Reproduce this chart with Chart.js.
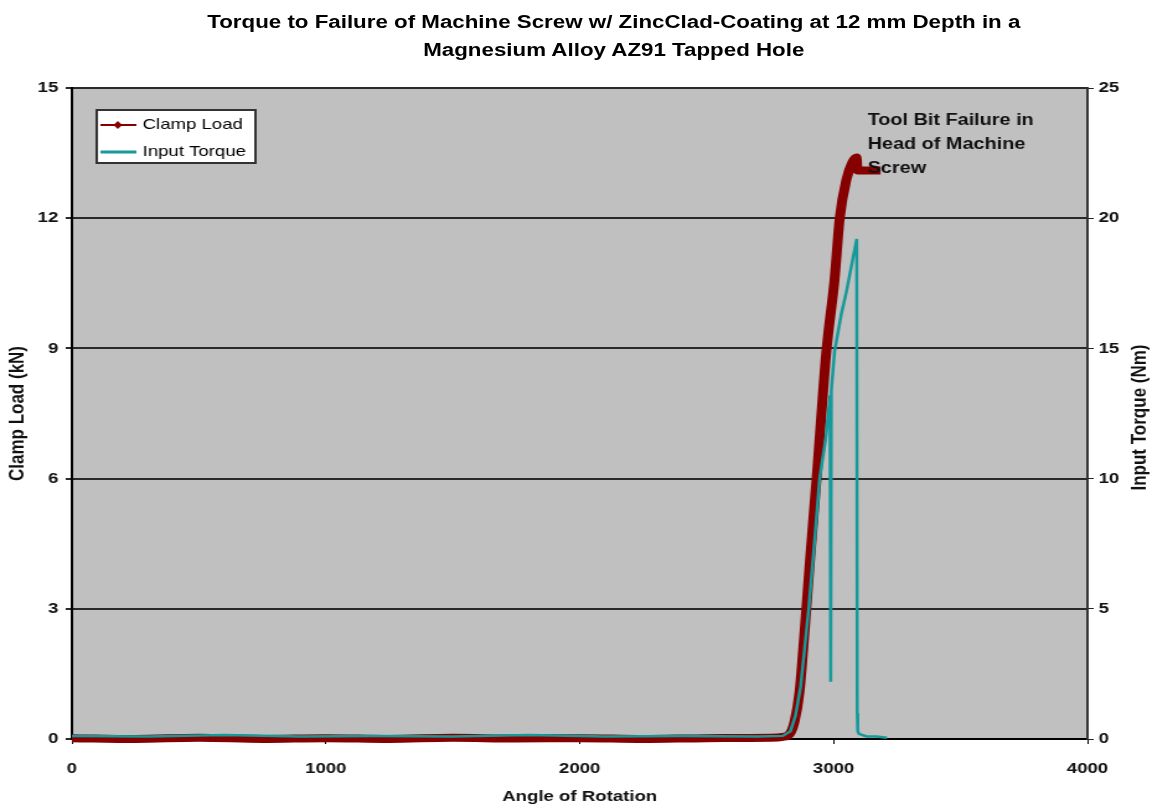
<!DOCTYPE html>
<html>
<head>
<meta charset="utf-8">
<script src="https://cdn.jsdelivr.net/npm/chart.js@4.4.0/dist/chart.umd.min.js"></script>
<style>
  html, body { margin: 0; padding: 0; background: #fff; overflow: hidden; }
  /* a imagem original e esticada na horizontal, entao estica tudo */
  #wrap { position: relative; width: 929px; height: 810px; transform: scaleX(1.24); transform-origin: 0 0; }
  #grafico { position: absolute; left: 0; top: 0; }
  #titulo {
    position: absolute; left: 0; top: 8px; width: 929px; padding-left: 61px; box-sizing: border-box;
    text-align: center; font: bold 18px "Liberation Sans", Arial, sans-serif; line-height: 28px; color: #000;
  }
</style>
</head>
<body>
<div id="wrap">
  <canvas id="grafico" width="929" height="810"></canvas>
  <div id="titulo">Torque to Failure of Machine Screw w/ ZincClad-Coating at 12 mm Depth in a<br>Magnesium Alloy AZ91 Tapped Hole</div>
</div>
<script>
// dados
const anguloCarga = [0, 250, 500, 750, 1000, 1250, 1500, 1750, 2000, 2250, 2500, 2750, 2800, 2827, 2846, 2866, 2886, 2906, 2933, 2972, 3004, 3024, 3051, 3075, 3091, 3094, 3130, 3185];
const cargaKN = [0.02, 0.0, 0.03, 0.0, 0.02, 0.0, 0.03, 0.01, 0.02, 0.0, 0.02, 0.03, 0.05, 0.12, 0.4, 1.1, 2.5, 4.05, 6.0, 8.96, 10.6, 12.0, 12.9, 13.3, 13.4, 13.1, 13.1, 13.1];

const anguloTorque = [0, 300, 600, 900, 1200, 1500, 1800, 2100, 2400, 2700, 2800, 2830, 2850, 2870, 2902, 2925, 2945, 2970, 2986, 2988, 2989, 2991, 3004, 3030, 3051, 3075, 3091, 3093, 3095, 3100, 3130, 3170, 3210];
const torqueNm = [0.12, 0.1, 0.15, 0.1, 0.12, 0.1, 0.15, 0.1, 0.12, 0.1, 0.12, 0.3, 0.9, 2.0, 5.0, 7.6, 10.0, 11.6, 13.2, 2.2, 2.2, 13.4, 14.9, 16.3, 17.2, 18.4, 19.2, 1.0, 0.3, 0.2, 0.1, 0.1, 0.05];

const ticksCarga = [0, 3, 6, 9, 12, 15];
const ticksTorque = [0, 5, 10, 15, 20, 25];
const ticksAngulo = [0, 1000, 2000, 3000, 4000];

const nomesSeries = ['Clamp Load', 'Input Torque'];
const textoAnotacao = ['Tool Bit Failure in', 'Head of Machine', 'Screw'];

const corCarga = '#860000';
const corTorque = '#16999a';
const fonte = '"Liberation Sans", Arial, sans-serif';

const pontosCarga = anguloCarga.map((a, i) => ({ x: a, y: cargaKN[i] }));
const pontosTorque = anguloTorque.map((a, i) => ({ x: a, y: torqueNm[i] }));

// fundo cinza da area do grafico
const fundoPlugin = {
  id: 'fundo',
  beforeDraw(chart) {
    const a = chart.chartArea;
    const ctx = chart.ctx;
    ctx.save();
    ctx.fillStyle = '#c0c0c0';
    ctx.fillRect(a.left, a.top, a.right - a.left, a.bottom - a.top);
    ctx.restore();
  }
};

// legenda dentro do grafico, caixa branca
const legendaPlugin = {
  id: 'legendaCaixa',
  afterDraw(chart) {
    const ctx = chart.ctx;
    const a = chart.chartArea;
    const x = a.left + 20, y = a.top + 22;
    ctx.save();
    ctx.fillStyle = '#fff';
    ctx.fillRect(x, y, 128, 53);
    ctx.strokeStyle = '#333';
    ctx.lineWidth = 2;
    ctx.strokeRect(x, y, 128, 53);
    const ds = chart.data.datasets;
    ctx.font = '15px ' + fonte;
    ctx.textBaseline = 'middle';
    for (let i = 0; i < ds.length; i++) {
      const ly = y + 15 + i * 27;
      ctx.strokeStyle = ds[i].borderColor;
      ctx.lineWidth = i == 0 ? 2 : 3;
      ctx.beginPath();
      ctx.moveTo(x + 3, ly);
      ctx.lineTo(x + 32, ly);
      ctx.stroke();
      if (i == 0) {
        ctx.fillStyle = ds[i].borderColor;
        ctx.beginPath();
        ctx.moveTo(x + 17, ly - 4);
        ctx.lineTo(x + 20.5, ly);
        ctx.lineTo(x + 17, ly + 4);
        ctx.lineTo(x + 13.5, ly);
        ctx.closePath();
        ctx.fill();
      }
      ctx.fillStyle = '#000';
      ctx.fillText(ds[i].label, x + 37, ly);
    }
    ctx.restore();
  }
};

// texto da falha + titulo do eixo direito
const textosPlugin = {
  id: 'textos',
  afterDraw(chart) {
    const ctx = chart.ctx;
    const sx = chart.scales.x, sy = chart.scales.y;
    ctx.save();
    ctx.fillStyle = '#111';
    ctx.font = 'bold 16px ' + fonte;
    ctx.textBaseline = 'middle';
    const x0 = sx.getPixelForValue(3134);
    const y0 = sy.getPixelForValue(14.26);
    textoAnotacao.forEach((t, i) => ctx.fillText(t, x0, y0 + i * 24));

    const yd = chart.scales.y1;
    ctx.font = 'bold 17px ' + fonte;
    ctx.translate(919, (yd.top + yd.bottom) / 2 + 4);
    ctx.rotate(-Math.PI / 2);
    ctx.textAlign = 'center';
    ctx.fillText('Input Torque (Nm)', 0, 0);
    ctx.restore();
  }
};

grafico = new Chart(document.getElementById('grafico'), {
  type: 'line',
  data: {
    datasets: [
      {
        label: nomesSeries[0],
        data: pontosCarga,
        borderColor: corCarga,
        backgroundColor: corCarga,
        borderWidth: 8,
        pointRadius: 0,
        cubicInterpolationMode: 'monotone',
        clip: 10,
        yAxisID: 'y',
        order: 2
      },
      {
        label: nomesSeries[1],
        data: pontosTorque,
        borderColor: corTorque,
        backgroundColor: corTorque,
        borderWidth: 2.5,
        pointRadius: 0,
        tension: 0,
        clip: 6,
        yAxisID: 'y1',
        order: 1
      }
    ]
  },
  options: {
    responsive: false,
    animation: false,
    layout: { padding: { top: 88, left: 0, right: 0, bottom: 0 } },
    plugins: {
      legend: { display: false },
      tooltip: { enabled: false }
    },
    scales: {
      x: {
        type: 'linear',
        min: 0, max: 4000,
        afterBuildTicks: (s) => { s.ticks = ticksAngulo.map(v => ({ value: v })); },
        afterFit: (s) => { s.height = 71; },
        grid: { drawOnChartArea: false, color: '#000', tickLength: 5 },
        border: { color: '#000', width: 2 },
        ticks: { color: '#111', font: { family: fonte, size: 15, weight: 'bold' }, padding: 16, callback: (v) => String(v) },
        title: { display: true, text: 'Angle of Rotation', color: '#111', font: { family: fonte, size: 15, weight: 'bold' }, padding: { top: 4, bottom: 4 } }
      },
      y: {
        position: 'left',
        min: 0, max: 15,
        afterBuildTicks: (s) => { s.ticks = ticksCarga.map(v => ({ value: v })); },
        afterFit: (s) => { s.width = 58; },
        grid: { color: '#2a2a2a', lineWidth: 2, tickLength: 5 },
        border: { color: '#000', width: 2 },
        ticks: { color: '#111', font: { family: fonte, size: 15, weight: 'bold' }, padding: 6, callback: (v) => String(v) },
        title: { display: true, text: 'Clamp Load (kN)', color: '#111', font: { family: fonte, size: 17, weight: 'bold' }, padding: { top: 4, bottom: 4 } }
      },
      y1: {
        position: 'right',
        min: 0, max: 25,
        afterBuildTicks: (s) => { s.ticks = ticksTorque.map(v => ({ value: v })); },
        afterFit: (s) => { s.width = 52; },
        grid: { drawOnChartArea: false, color: '#222', tickLength: 5 },
        border: { color: '#333', width: 2 },
        ticks: { color: '#111', font: { family: fonte, size: 15, weight: 'bold' }, padding: 4, callback: (v) => String(v) }
      }
    }
  },
  plugins: [fundoPlugin, legendaPlugin, textosPlugin]
});
</script>
</body>
</html>
